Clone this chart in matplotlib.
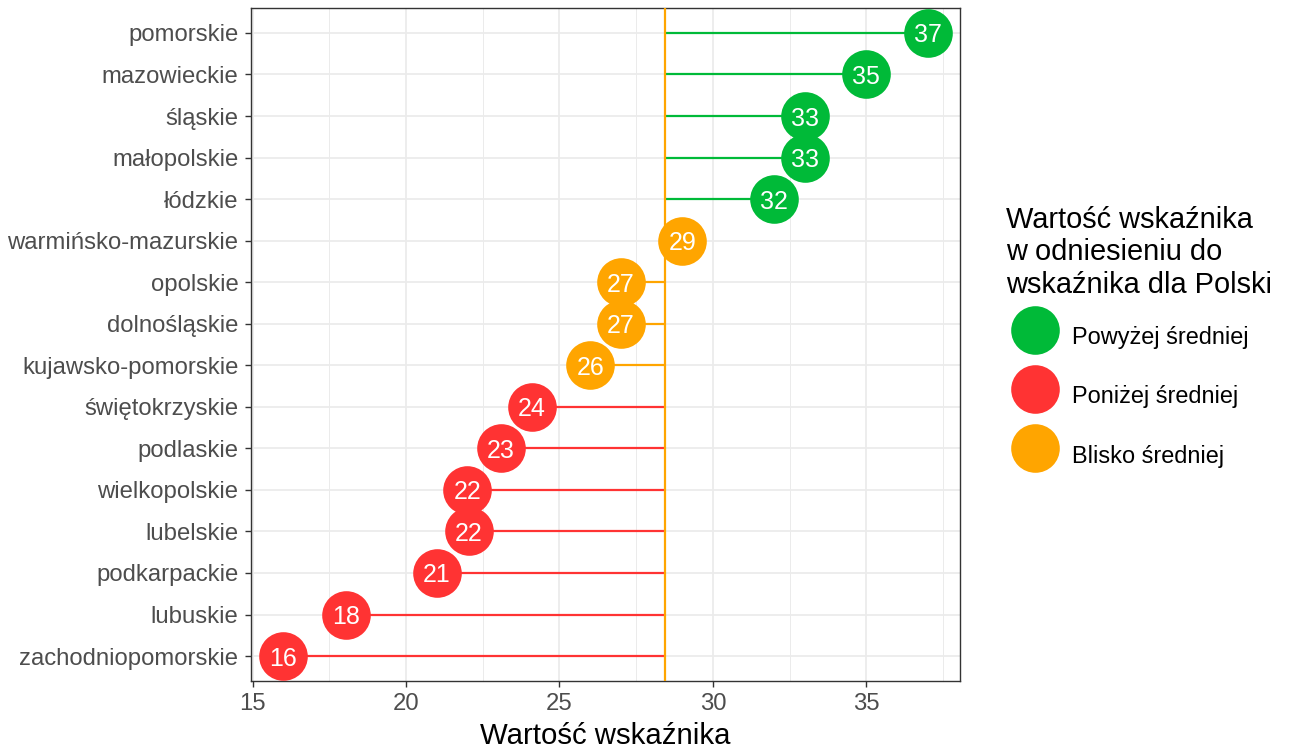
import numpy as np
import matplotlib
matplotlib.use("Agg")
import matplotlib.pyplot as plt
from matplotlib.lines import Line2D
from matplotlib.ticker import MultipleLocator

plt.rcParams['font.family'] = ['Liberation Sans', 'DejaVu Sans']

# Data (top to bottom)
regions = ['pomorskie', 'mazowieckie', 'śląskie', 'małopolskie', 'łódzkie',
           'warmińsko-mazurskie', 'opolskie', 'dolnośląskie', 'kujawsko-pomorskie',
           'świętokrzyskie', 'podlaskie', 'wielkopolskie', 'lubelskie',
           'podkarpackie', 'lubuskie', 'zachodniopomorskie']
values = [37.0, 35.0, 33.0, 33.0, 32.0, 29.0, 27.0, 27.0, 26.0,
          24.1, 23.1, 22.0, 22.05, 21.0, 18.05, 16.0]
groups = ['Powyżej średniej'] * 5 + ['Blisko średniej'] * 4 + ['Poniżej średniej'] * 7
poland_mean = 28.45

group_order = ['Powyżej średniej', 'Poniżej średniej', 'Blisko średniej']
group_colors = {'Powyżej średniej': '#00BA38',
                'Poniżej średniej': '#FF3333',
                'Blisko średniej': '#FFA500'}

fig = plt.figure(figsize=(12.94, 7.53), dpi=100)
ax = fig.add_axes([251 / 1294, 1 - 681 / 753, (960 - 251) / 1294, (681 - 8) / 753])

n = len(regions)
ypos = np.arange(n)[::-1]

# segments from the Polish value to each region
for y, v, g in zip(ypos, values, groups):
    ax.plot([poland_mean, v], [y, y], color=group_colors[g], lw=1.6, zorder=2,
            solid_capstyle='butt')

ax.axvline(poland_mean, color='#FFA500', lw=1.6, zorder=3)

for y, v, g in zip(ypos, values, groups):
    ax.plot(v, y, 'o', ms=35, color=group_colors[g], mec='none', zorder=4)
    ax.text(v, y, f"{v:.0f}", color='white', fontsize=18, ha='center',
            va='center_baseline', zorder=5)

# axes, ggplot theme_bw look
lo, hi = min(values), max(values)
span = hi - lo
ax.set_xlim(lo - 0.05 * span, hi + 0.05 * span)
ax.set_ylim(-0.6, n - 1 + 0.6)
ax.set_yticks(ypos)
ax.set_yticklabels(regions)
ax.xaxis.set_major_locator(MultipleLocator(5))
ax.xaxis.set_minor_locator(MultipleLocator(2.5))
ax.grid(which='major', color='#EBEBEB', lw=1.25, zorder=0)
ax.grid(which='minor', axis='x', color='#EBEBEB', lw=0.7, zorder=0)
ax.set_axisbelow(True)
for s in ax.spines.values():
    s.set_color('#333333')
    s.set_linewidth(1.0)
ax.tick_params(which='major', length=4, width=1.0, color='#333333',
               labelcolor='#4D4D4D', labelsize=17.2, pad=5)
ax.tick_params(which='minor', length=0)
ax.set_xlabel('Wartość wskaźnika', fontsize=21.2, color='black', labelpad=5)

handles = [Line2D([], [], marker='o', ls='none', ms=35, color=group_colors[g], mec='none')
           for g in group_order]
leg = fig.legend(handles, group_order, loc='upper left',
                 bbox_to_anchor=(1006 / 1294, 1 - 206 / 753),
                 frameon=False, fontsize=16.9, borderpad=0, borderaxespad=0,
                 handlelength=2.5, handleheight=2.4, labelspacing=0.72,
                 handletextpad=0.3,
                 title='Wartość wskaźnika\nw odniesieniu do\nwskaźnika dla Polski',
                 title_fontsize=20.9, alignment='left')
leg.get_title().set_linespacing(1.2)

fig.savefig('out.png', dpi=100)
